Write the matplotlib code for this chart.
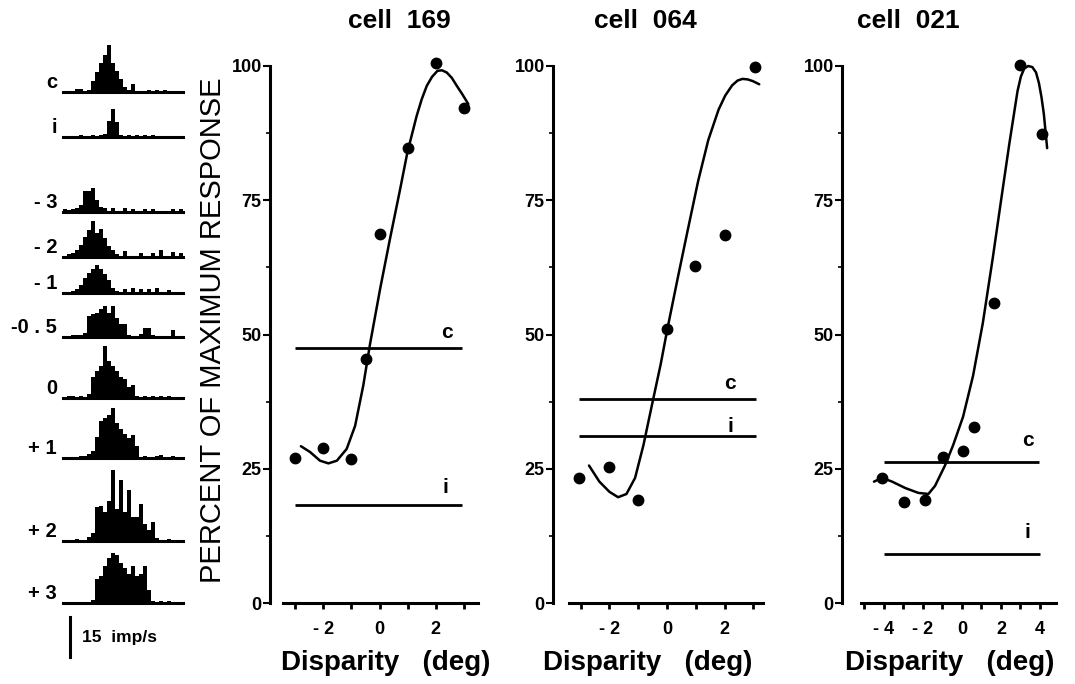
import matplotlib
matplotlib.use("Agg")
import matplotlib.pyplot as plt
from matplotlib.ticker import FixedLocator

plt.rcParams['font.family'] = ['Liberation Sans', 'DejaVu Sans']

# ---------------- data ----------------
hist_labels = ["c", "i", "- 3", "- 2", "- 1", "-0 . 5", "0", "+ 1", "+ 2", "+ 3"]
# spike-rate histograms (imp/s), 30 bins each
h_c = [0.3, 0.3, 0.5, 1.2, 1.0, 0.5, 0.8, 4, 7.5, 11, 14, 17.7, 11, 8, 5, 2, 0.8, 3, 0.5, 0.3,
       0.3, 0.8, 0.3, 0.8, 0.3, 0.8, 0.3, 0.3, 0.3, 0.3]
h_i = [0, 0.5, 0, 0.3, 0.8, 0, 0.3, 0.8, 0.3, 0.8, 1.0, 6, 10.6, 5.5, 0.8, 0.5, 0.8, 0.5, 0.8, 0.3,
       0.8, 0.5, 0.8, 0.3, 0.3, 0.3, 0.3, 0.3, 0.3, 0.3]
h_m3 = [1.2, 0.8, 1.2, 1.5, 2.5, 7.7, 8, 9, 4.5, 2, 1.5, 0.5, 1.5, 0.3, 0.5, 1.5, 0.3, 1.2, 0.3, 0.5,
        1.2, 0.3, 1.2, 0.3, 0.3, 0.3, 0.3, 1.3, 0.3, 1.3]
h_m2 = [0.5, 1.0, 1.5, 2.5, 4.5, 7.5, 10, 13.4, 9, 10.5, 7, 4, 2.5, 1.0, 0.5, 2.2, 0.3, 0.5, 0.3, 1.5,
        0.3, 0.5, 1.5, 0.3, 2.5, 0.5, 0.3, 1.8, 0.5, 1.5]
h_m1 = [0.3, 0.5, 0.8, 1.5, 3, 5.5, 7.5, 9, 10.5, 9, 7, 5, 2, 0.8, 0.5, 1.5, 0.3, 1.8, 0.3, 1.5,
        0.3, 1.5, 0.3, 1.8, 0.3, 0.5, 1.0, 0.3, 0.3, 0.3]
h_m05 = [0.5, 0.5, 0.6, 0.6, 0.8, 1.5, 8, 8.7, 9, 10.5, 11.5, 9, 11.5, 7, 5, 5, 0.8, 0.5, 0.5, 1,
         3.4, 3.4, 0.8, 0.5, 0.3, 0.5, 0.3, 2.5, 0.5, 0.5]
h_0 = [0.5, 0.8, 0.8, 0.5, 0.8, 0.5, 1.5, 8, 10, 12, 19.4, 14, 12, 10, 8, 7, 4, 5, 0.8, 0.5,
       0.8, 0.5, 0.8, 0.5, 0.8, 0.5, 0.8, 0.3, 0.3, 0.3]
h_p1 = [0.3, 0.5, 0.5, 0.5, 0.8, 0.8, 1.5, 2.5, 8, 14, 15, 16, 18.8, 13, 11, 9, 7.5, 8.8, 4.5, 0.5,
        0.8, 0.5, 0.5, 0.8, 1.0, 0.5, 0.5, 0.8, 0.3, 0.3]
h_p2 = [0.3, 0.5, 0.5, 0.8, 0.5, 0.5, 1.5, 3, 12.8, 13, 11, 15, 26.5, 12, 22.8, 11, 19, 9, 9, 14,
        6.5, 4, 7, 1.0, 0.5, 0.5, 0.8, 0.5, 0.5, 0.3]
h_p3 = [0.5, 0.5, 0.5, 0.5, 0.5, 0.5, 0.5, 1.0, 9, 10, 14, 17, 18.8, 18, 15, 13, 11, 13.7, 10, 11,
        13.7, 5, 0.8, 0.5, 0.8, 0.5, 0.8, 0.5, 0.5, 0.3]
hists = [h_c, h_i, h_m3, h_m2, h_m1, h_m05, h_0, h_p1, h_p2, h_p3]
scale_bar = 15  # imp/s

titles = ["cell  169", "cell  064", "cell  021"]

# cell 169
d169_x = [-3, -2, -1, -0.5, 0, 1, 2, 3]
d169_y = [27, 28.8, 26.8, 45.4, 68.8, 84.8, 100.5, 92.2]
f169_x = [-2.8, -2.47, -2.12, -1.82, -1.52, -1.17, -0.87, -0.58, -0.34, 0.02, 0.37, 0.73, 0.99,
          1.32, 1.5, 1.68, 1.87, 2.06, 2.22, 2.39, 2.57, 2.75, 2.95, 3.16]
f169_y = [29.2, 28.1, 26.5, 26.0, 26.5, 28.7, 33, 40.5, 48.2, 58.5, 67.8, 77, 83.9,
          90.7, 93.8, 96.3, 98.0, 99.1, 99.2, 98.8, 97.8, 96.3, 94.7, 92.9]
c169, i169 = 47.5, 18.3

# cell 064
d064_x = [-3.07, -2, -1, 0, 0.98, 2, 3.05]
d064_y = [23.3, 25.4, 19.2, 51, 62.7, 68.6, 99.8]
f064_x = [-2.71, -2.35, -2.0, -1.70, -1.41, -1.11, -0.82, -0.52, -0.22, 0.01, 0.37, 0.72, 1.08,
          1.43, 1.79, 2.02, 2.26, 2.45, 2.62, 2.8, 2.97, 3.2]
f064_y = [25.6, 22.6, 20.7, 19.7, 20.3, 23.3, 29.4, 37, 44.5, 51, 60.5, 69.5, 78.6,
          86.2, 91.9, 94.5, 96.4, 97.3, 97.6, 97.5, 97.2, 96.6]
c064, i064 = 38.0, 31.1

# cell 021
d021_x = [-4.09, -2.99, -1.89, -0.96, 0.06, 0.62, 1.67, 2.99, 4.1]
d021_y = [23.3, 18.9, 19.2, 27.1, 28.3, 32.8, 55.9, 100.2, 87.3]
f021_x = [-4.51, -4.09, -3.58, -2.9, -2.23, -1.72, -1.38, -0.87, -0.45, 0.06, 0.57, 1.07, 1.58,
          2.0, 2.43, 2.85, 3.02, 3.19, 3.4, 3.61, 3.8, 3.95, 4.08, 4.2, 4.37]
f021_y = [22.6, 23.3, 22.6, 21.4, 20.5, 20.3, 21.8, 25.6, 29.4, 34.7, 42.3, 52.1, 64.2,
          74.8, 85.5, 95.3, 98.0, 99.5, 100.0, 99.8, 98.8, 96.8, 94.2, 91.1, 84.7]
c021, i021 = 26.2, 9.1

ytick_vals = [0, 25, 50, 75, 100]
ytick_labels = ["0", "25", "50", "75", "100"]

# ---------------- layout ----------------
W, H = 1075, 684
fig = plt.figure(figsize=(W / 100, H / 100), dpi=100)


def px_axes(left, bottom, width, height):
    return fig.add_axes([left / W, 1 - bottom / H, width / W, height / H])


# histograms
hist_baselines = [92, 137, 212, 257, 293, 337, 398, 458, 541, 603]
px_per_unit = 40 / 15.0
for lab, h, base in zip(hist_labels, hists, hist_baselines):
    hh = 80
    ax = px_axes(63, base, 120, hh)
    ax.set_xlim(-0.5, len(h) - 0.5)
    ax.set_ylim(0, hh / px_per_unit)
    ax.bar(range(len(h)), h, width=1.0, color='black', linewidth=0)
    ax.axhline(0, color='black', lw=2.2, clip_on=False)
    ax.axis('off')
    ax.text(-0.05, 0.0, lab, transform=ax.transAxes, ha='right', va='bottom',
            fontsize=14.5, fontweight='bold')
    last_ax = ax

# scale bar in last histogram axes
last_ax.plot([1.25, 1.25], [-5.3, -5.3 - scale_bar], color='black', lw=2.2, clip_on=False)
last_ax.text(4.3, -5.3 - scale_bar / 2, "15  imp/s", ha='left', va='center',
             fontsize=12.5, fontweight='bold', clip_on=False)

panels = [
    dict(rect=(270, 209.3), xlim=(-3.9, 3.55), xb=(-3.45, 3.5),
         major=[-2, 0, 2], mlab=["- 2", "0", "2"], minor=[-3, -1, 1, 3],
         dx=d169_x, dy=d169_y, fx=f169_x, fy=f169_y, c=c169, i=i169,
         cl=(-3.0, 2.95), il=(-3.0, 2.95), cpos=(2.4, 49.4), ipos=(2.35, 20.4)),
    dict(rect=(553, 212.0), xlim=(-3.96, 3.4), xb=(-3.4, 3.33),
         major=[-2, 0, 2], mlab=["- 2", "0", "2"], minor=[-3, -1, 1, 3],
         dx=d064_x, dy=d064_y, fx=f064_x, fy=f064_y, c=c064, i=i064,
         cl=(-3.07, 3.09), il=(-3.07, 3.09), cpos=(2.2, 39.8), ipos=(2.2, 31.8)),
    dict(rect=(842, 214.5), xlim=(-6.15, 4.85), xb=(-5.2, 4.8),
         major=[-4, -2, 0, 2, 4], mlab=["- 4", "- 2", "0", "2", "4"], minor=[-5, -3, -1, 1, 3],
         dx=d021_x, dy=d021_y, fx=f021_x, fy=f021_y, c=c021, i=i021,
         cl=(-4.0, 3.96), il=(-4.0, 4.0), cpos=(3.36, 29.2), ipos=(3.36, 12.1)),
]
title_cx = [399, 645, 908]
xlabel_cx = [386, 648, 950]

ppu_y = 5.37
ylim_top = 103
for k, p in enumerate(panels):
    left, width = p['rect']
    ax = px_axes(left, 603, width, ylim_top * ppu_y)
    ax.set_xlim(*p['xlim'])
    ax.set_ylim(0, ylim_top)
    for s in ['top', 'right']:
        ax.spines[s].set_visible(False)
    ax.spines['left'].set_bounds(0, 100)
    ax.spines['bottom'].set_bounds(*p['xb'])
    ax.spines['left'].set_linewidth(2.2)
    ax.spines['bottom'].set_linewidth(2.2)
    ax.xaxis.set_major_locator(FixedLocator(p['major']))
    ax.xaxis.set_minor_locator(FixedLocator(p['minor']))
    ax.set_xticklabels(p['mlab'], fontsize=13, fontweight='bold')
    ax.yaxis.set_major_locator(FixedLocator(ytick_vals))
    ax.yaxis.set_minor_locator(FixedLocator([12.5, 37.5, 62.5, 87.5]))
    ax.set_yticklabels(ytick_labels, fontsize=13, fontweight='bold')
    ax.tick_params(axis='x', which='both', direction='out', length=4, width=2, pad=9)
    ax.tick_params(axis='y', which='major', direction='out', length=5, width=1.5, pad=1)
    ax.tick_params(axis='y', which='minor', direction='out', length=3, width=1.2)

    ax.plot(p['fx'], p['fy'], color='black', lw=1.8, solid_capstyle='round',
            solid_joinstyle='round')
    ax.plot(p['dx'], p['dy'], 'o', color='black', ms=7.5)
    ax.hlines(p['c'], *p['cl'], color='black', lw=2.0)
    ax.hlines(p['i'], *p['il'], color='black', lw=2.0)
    ax.text(*p['cpos'], "c", ha='center', va='baseline', fontsize=15, fontweight='bold')
    ax.text(*p['ipos'], "i", ha='center', va='baseline', fontsize=15, fontweight='bold')

    fig.text(title_cx[k] / W, 1 - 21 / H, titles[k], ha='center', va='center',
             fontsize=19, fontweight='bold')
    fig.text(xlabel_cx[k] / W, 1 - 663 / H, "Disparity   (deg)", ha='center', va='center',
             fontsize=20, fontweight='bold')

fig.text(213 / W, 1 - 330 / H, "PERCENT OF MAXIMUM RESPONSE", rotation=90,
         ha='center', va='center', fontsize=21)

fig.savefig("out.png", dpi=100, facecolor='white')
